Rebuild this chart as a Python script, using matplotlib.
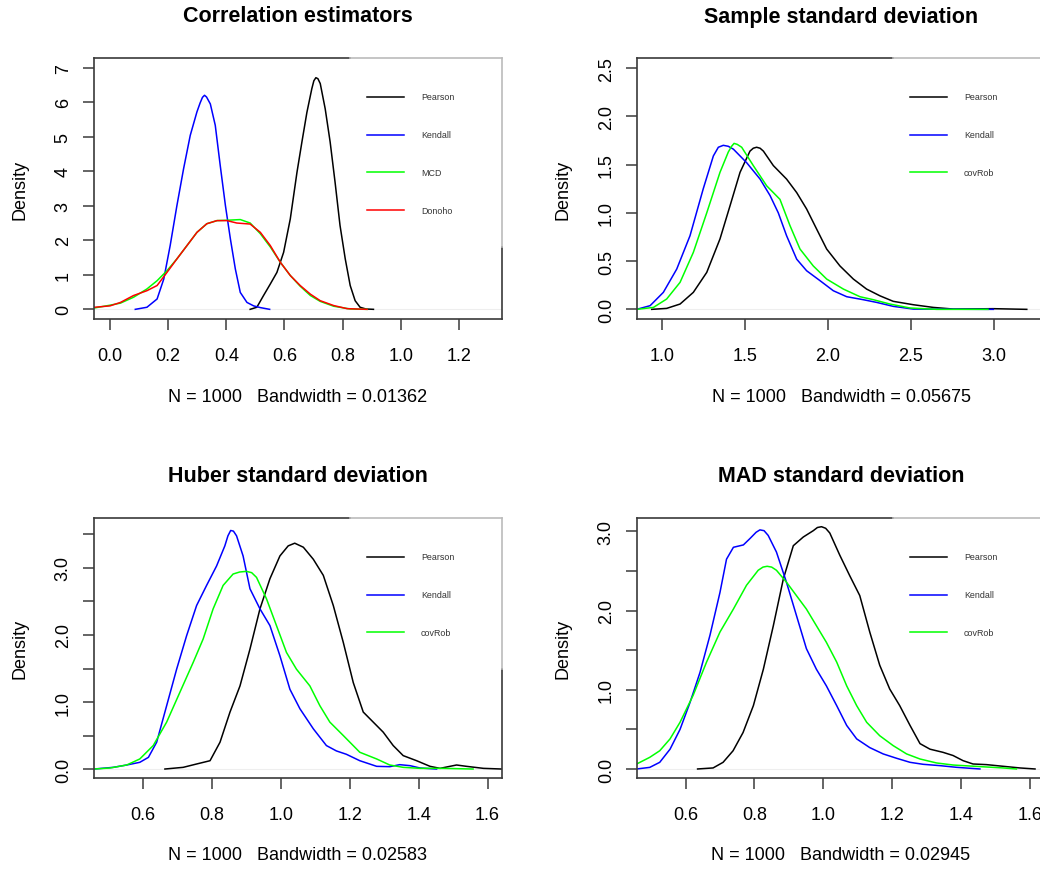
import matplotlib
matplotlib.use('Agg')
import matplotlib.pyplot as plt

plt.rcParams['font.family'] = ['Liberation Sans', 'DejaVu Sans']

# ---- panel 1: correlation estimators ----
corr_pearson_x = [0.482, 0.505, 0.528, 0.551, 0.574, 0.597, 0.620, 0.643, 0.660, 0.677, 0.694, 0.701,
                  0.708, 0.715, 0.723, 0.740, 0.757, 0.774, 0.791, 0.809, 0.826, 0.843, 0.860, 0.880,
                  0.906]
corr_pearson_y = [0.0, 0.06, 0.40, 0.73, 1.07, 1.65, 2.62, 3.97, 4.85, 5.70, 6.39, 6.62,
                  6.71, 6.68, 6.54, 5.81, 4.85, 3.68, 2.43, 1.46, 0.69, 0.25, 0.06, 0.01,
                  0.0]
corr_kendall_x = [0.087, 0.127, 0.162, 0.185, 0.207, 0.230, 0.253, 0.276, 0.299, 0.310, 0.318, 0.325,
                  0.332, 0.345, 0.362, 0.379, 0.397, 0.414, 0.431, 0.448, 0.471, 0.494, 0.517, 0.549]
corr_kendall_y = [0.0, 0.06, 0.30, 0.88, 1.85, 3.00, 4.07, 5.04, 5.72, 5.98, 6.14, 6.20,
                  6.15, 5.95, 5.33, 4.17, 3.00, 2.04, 1.17, 0.49, 0.20, 0.10, 0.05, 0.0]
corr_mcd_x = [-0.053, 0.0, 0.036, 0.081, 0.127, 0.162, 0.196, 0.230, 0.265, 0.299, 0.333, 0.368,
              0.402, 0.448, 0.482, 0.517, 0.551, 0.586, 0.620, 0.654, 0.689, 0.723, 0.769, 0.826, 0.884]
corr_mcd_y = [0.04, 0.12, 0.18, 0.35, 0.59, 0.83, 1.12, 1.46, 1.85, 2.23, 2.48, 2.57,
              2.58, 2.60, 2.50, 2.19, 1.81, 1.36, 0.98, 0.67, 0.40, 0.23, 0.09, 0.01, 0.0]
corr_donoho_x = [-0.053, 0.0, 0.036, 0.081, 0.127, 0.162, 0.196, 0.230, 0.265, 0.299, 0.333, 0.368,
                 0.402, 0.436, 0.482, 0.517, 0.551, 0.586, 0.620, 0.654, 0.689, 0.723, 0.769, 0.815, 0.884]
corr_donoho_y = [0.06, 0.10, 0.20, 0.40, 0.54, 0.69, 1.07, 1.46, 1.85, 2.23, 2.48, 2.57,
                 2.57, 2.50, 2.47, 2.23, 1.85, 1.36, 0.98, 0.69, 0.44, 0.25, 0.11, 0.02, 0.0]

# ---- panel 2: sample standard deviation ----
sd_pearson_x = [0.936, 1.026, 1.107, 1.187, 1.268, 1.348, 1.408, 1.469, 1.529, 1.549, 1.569, 1.590,
                1.610, 1.670, 1.750, 1.811, 1.871, 1.932, 1.992, 2.072, 2.153, 2.233, 2.314, 2.394,
                2.515, 2.636, 2.757, 2.998, 3.200]
sd_pearson_y = [0.0, 0.01, 0.055, 0.176, 0.383, 0.73, 1.07, 1.42, 1.64, 1.67, 1.68, 1.67,
                1.64, 1.49, 1.35, 1.21, 1.04, 0.83, 0.625, 0.45, 0.314, 0.21, 0.14, 0.083,
                0.048, 0.02, 0.003, 0.007, 0.0]
sd_kendall_x = [0.845, 0.926, 1.006, 1.087, 1.167, 1.247, 1.308, 1.338, 1.368, 1.398, 1.429, 1.509,
                1.590, 1.650, 1.700, 1.750, 1.811, 1.871, 1.952, 2.032, 2.113, 2.213, 2.294, 2.394,
                2.515, 2.998]
sd_kendall_y = [0.0, 0.038, 0.176, 0.418, 0.763, 1.25, 1.59, 1.68, 1.70, 1.69, 1.66, 1.52,
                1.35, 1.18, 1.00, 0.763, 0.52, 0.40, 0.297, 0.193, 0.131, 0.10, 0.072, 0.031,
                0.003, 0.0]
sd_covrob_x = [0.845, 0.946, 1.026, 1.107, 1.187, 1.268, 1.348, 1.398, 1.418, 1.433, 1.452, 1.479,
               1.549, 1.630, 1.710, 1.770, 1.831, 1.911, 1.992, 2.093, 2.193, 2.274, 2.374, 2.495,
               2.656, 2.966]
sd_covrob_y = [0.0, 0.02, 0.107, 0.28, 0.59, 1.00, 1.42, 1.63, 1.69, 1.72, 1.71, 1.68,
               1.49, 1.28, 1.14, 0.87, 0.625, 0.45, 0.314, 0.21, 0.131, 0.10, 0.055, 0.014,
               0.0, 0.0]

# ---- panel 3: Huber standard deviation ----
hub_pearson_x = [0.663, 0.716, 0.755, 0.794, 0.823, 0.852, 0.881, 0.910, 0.939, 0.968, 0.997, 1.021,
                 1.040, 1.065, 1.094, 1.123, 1.152, 1.181, 1.210, 1.239, 1.268, 1.297, 1.326, 1.355,
                 1.394, 1.433, 1.462, 1.510, 1.539, 1.588, 1.641]
hub_pearson_y = [0.0, 0.025, 0.075, 0.124, 0.40, 0.85, 1.24, 1.79, 2.39, 2.84, 3.18, 3.33,
                 3.37, 3.31, 3.13, 2.89, 2.44, 1.89, 1.29, 0.85, 0.70, 0.55, 0.35, 0.20,
                 0.124, 0.04, 0.01, 0.06, 0.04, 0.01, 0.0]
hub_kendall_x = [0.457, 0.513, 0.552, 0.590, 0.615, 0.639, 0.668, 0.697, 0.726, 0.755, 0.784, 0.813,
                 0.837, 0.846, 0.854, 0.862, 0.871, 0.890, 0.910, 0.939, 0.968, 0.997, 1.026, 1.055,
                 1.094, 1.132, 1.161, 1.190, 1.229, 1.278, 1.316, 1.345, 1.375, 1.404, 1.452]
hub_kendall_y = [0.0, 0.025, 0.06, 0.10, 0.174, 0.40, 0.945, 1.49, 1.99, 2.44, 2.74, 3.03,
                 3.33, 3.48, 3.56, 3.55, 3.48, 3.18, 2.69, 2.39, 2.14, 1.69, 1.19, 0.90,
                 0.60, 0.35, 0.27, 0.22, 0.124, 0.04, 0.035, 0.065, 0.05, 0.015, 0.0]
hub_covrob_x = [0.457, 0.503, 0.552, 0.590, 0.629, 0.668, 0.706, 0.745, 0.774, 0.803, 0.832, 0.861,
                0.880, 0.900, 0.915, 0.929, 0.958, 0.987, 1.016, 1.045, 1.084, 1.113, 1.142, 1.181,
                1.229, 1.278, 1.316, 1.355, 1.404, 1.471, 1.558]
hub_covrob_y = [0.0, 0.015, 0.06, 0.15, 0.35, 0.70, 1.14, 1.59, 1.94, 2.39, 2.74, 2.91,
                2.94, 2.95, 2.93, 2.86, 2.54, 2.14, 1.74, 1.49, 1.24, 0.945, 0.70, 0.50,
                0.25, 0.15, 0.06, 0.025, 0.01, 0.01, 0.0]

# ---- panel 4: MAD standard deviation ----
mad_pearson_x = [0.635, 0.680, 0.709, 0.738, 0.767, 0.797, 0.826, 0.855, 0.884, 0.913, 0.942, 0.971,
                 0.983, 0.995, 1.007, 1.019, 1.048, 1.077, 1.106, 1.135, 1.164, 1.193, 1.222, 1.252,
                 1.281, 1.310, 1.348, 1.377, 1.406, 1.435, 1.474, 1.522, 1.571, 1.615]
mad_pearson_y = [0.0, 0.013, 0.084, 0.23, 0.46, 0.80, 1.26, 1.81, 2.40, 2.82, 2.93, 3.01,
                 3.05, 3.06, 3.04, 2.98, 2.70, 2.44, 2.19, 1.73, 1.31, 1.01, 0.80, 0.55,
                 0.32, 0.25, 0.21, 0.17, 0.105, 0.063, 0.055, 0.034, 0.013, 0.0]
mad_kendall_x = [0.458, 0.496, 0.525, 0.555, 0.584, 0.613, 0.642, 0.671, 0.700, 0.719, 0.739, 0.768,
                 0.787, 0.805, 0.816, 0.828, 0.840, 0.864, 0.893, 0.922, 0.951, 0.980, 1.009, 1.039,
                 1.068, 1.097, 1.135, 1.174, 1.213, 1.252, 1.290, 1.339, 1.387, 1.455]
mad_kendall_y = [0.0, 0.02, 0.084, 0.25, 0.50, 0.84, 1.22, 1.69, 2.23, 2.65, 2.80, 2.83,
                 2.91, 2.99, 3.02, 3.01, 2.95, 2.74, 2.36, 1.94, 1.52, 1.26, 1.05, 0.80,
                 0.55, 0.38, 0.27, 0.19, 0.135, 0.084, 0.059, 0.042, 0.021, 0.0]
mad_covrob_x = [0.458, 0.496, 0.525, 0.555, 0.584, 0.622, 0.661, 0.700, 0.739, 0.777, 0.811, 0.825,
                0.837, 0.850, 0.864, 0.893, 0.922, 0.951, 0.980, 1.009, 1.039, 1.068, 1.097, 1.126,
                1.164, 1.203, 1.242, 1.281, 1.329, 1.377, 1.455, 1.522, 1.561]
mad_covrob_y = [0.063, 0.147, 0.23, 0.38, 0.59, 0.93, 1.35, 1.73, 2.02, 2.32, 2.51, 2.55,
                2.56, 2.55, 2.51, 2.36, 2.19, 2.02, 1.81, 1.60, 1.35, 1.05, 0.80, 0.59,
                0.42, 0.295, 0.19, 0.126, 0.076, 0.05, 0.03, 0.013, 0.0]

titles = ['Correlation estimators', 'Sample standard deviation',
          'Huber standard deviation', 'MAD standard deviation']
bandwidths = ['N = 1000   Bandwidth = 0.01362', 'N = 1000   Bandwidth = 0.05675',
              'N = 1000   Bandwidth = 0.02583', 'N = 1000   Bandwidth = 0.02945']

panels = [
    dict(curves=[(corr_pearson_x, corr_pearson_y), (corr_kendall_x, corr_kendall_y),
                 (corr_mcd_x, corr_mcd_y), (corr_donoho_x, corr_donoho_y)],
         labels=['Pearson', 'Kendall', 'MCD', 'Donoho'],
         colors=['black', 'blue', '#00ff00', 'red'],
         xlim=(-0.055, 1.348), ylim=(-0.28, 7.28),
         xticks=[0.0, 0.2, 0.4, 0.6, 0.8, 1.0, 1.2],
         xlabels=['0.0', '0.2', '0.4', '0.6', '0.8', '1.0', '1.2'],
         yticks=[0, 1, 2, 3, 4, 5, 6, 7],
         ylabels=['0', '1', '2', '3', '4', '5', '6', '7'],
         rdark=0.276),
    dict(curves=[(sd_pearson_x, sd_pearson_y), (sd_kendall_x, sd_kendall_y),
                 (sd_covrob_x, sd_covrob_y)],
         labels=['Pearson', 'Kendall', 'covRob'],
         colors=['black', 'blue', '#00ff00'],
         xlim=(0.847, 3.31), ylim=(-0.1, 2.605),
         xticks=[1.0, 1.5, 2.0, 2.5, 3.0],
         xlabels=['1.0', '1.5', '2.0', '2.5', '3.0'],
         yticks=[0.0, 0.5, 1.0, 1.5, 2.0, 2.5],
         ylabels=['0.0', '0.5', '1.0', '1.5', '2.0', '2.5'],
         rdark=0.276),
    dict(curves=[(hub_pearson_x, hub_pearson_y), (hub_kendall_x, hub_kendall_y),
                 (hub_covrob_x, hub_covrob_y)],
         labels=['Pearson', 'Kendall', 'covRob'],
         colors=['black', 'blue', '#00ff00'],
         xlim=(0.457, 1.642), ylim=(-0.134, 3.746),
         xticks=[0.6, 0.8, 1.0, 1.2, 1.4, 1.6],
         xlabels=['0.6', '0.8', '1.0', '1.2', '1.4', '1.6'],
         yticks=[0.0, 0.5, 1.0, 1.5, 2.0, 2.5, 3.0, 3.5],
         ylabels=['0.0', '', '1.0', '', '2.0', '', '3.0', ''],
         rdark=0.42),
    dict(curves=[(mad_pearson_x, mad_pearson_y), (mad_kendall_x, mad_kendall_y),
                 (mad_covrob_x, mad_covrob_y)],
         labels=['Pearson', 'Kendall', 'covRob'],
         colors=['black', 'blue', '#00ff00'],
         xlim=(0.459, 1.644), ylim=(-0.114, 3.17),
         xticks=[0.6, 0.8, 1.0, 1.2, 1.4, 1.6],
         xlabels=['0.6', '0.8', '1.0', '1.2', '1.4', '1.6'],
         yticks=[0.0, 0.5, 1.0, 1.5, 2.0, 2.5, 3.0],
         ylabels=['0.0', '', '1.0', '', '2.0', '', '3.0'],
         rdark=0.42),
]

W, H = 1040, 870
fig = plt.figure(figsize=(10.4, 8.7), dpi=100)
# axes boxes in pixels: left, top, width, height
boxes = [(94, 59, 408, 261), (637, 59, 408, 261), (94, 519, 408, 260), (637, 519, 408, 260)]
edge = '#3a3a3a'

for p, box, title, bw in zip(panels, boxes, titles, bandwidths):
    l, t, w, h = box
    ax = fig.add_axes([l / W, (H - t - h) / H, w / W, h / H])
    ax.set_xlim(*p['xlim'])
    ax.set_ylim(*p['ylim'])
    ax.axhline(0, color='#eeeeee', lw=0.8, zorder=0)
    for (xs, ys), c in zip(p['curves'], p['colors']):
        ax.plot(xs, ys, color=c, lw=1.1, solid_joinstyle='round')

    # legend without frame
    for i, (lab, c) in enumerate(zip(p['labels'], p['colors'])):
        yy = 1 - (38.7 + 37.8 * i) / h
        ax.plot([0.669, 0.760], [yy, yy], color=c, lw=1.1, transform=ax.transAxes)
        ax.text(0.801, yy, lab, fontsize=6.4, color='#333333', va='center', ha='left',
                transform=ax.transAxes)

    # box like the screenshot (partly faded top/right edges)
    for s in ['top', 'right']:
        ax.spines[s].set_visible(False)
    for s in ['left', 'bottom']:
        ax.spines[s].set_color(edge)
        ax.spines[s].set_linewidth(1.2)
    ax.plot([0, 0.627], [1, 1], color=edge, lw=1.2, transform=ax.transAxes, clip_on=False)
    ax.plot([0.627, 1], [1, 1], color='#bbbbbb', lw=1.2, transform=ax.transAxes, clip_on=False)
    ax.plot([1, 1], [0, p['rdark']], color=edge, lw=1.2, transform=ax.transAxes, clip_on=False)
    ax.plot([1, 1], [p['rdark'], 1], color='#bbbbbb', lw=1.2, transform=ax.transAxes, clip_on=False)

    ax.set_xticks(p['xticks'])
    ax.set_xticklabels(p['xlabels'])
    ax.set_yticks(p['yticks'])
    ax.set_yticklabels(p['ylabels'], rotation=90, va='center')
    ax.tick_params(direction='out', length=8, width=1.1, color=edge, labelsize=13)
    ax.tick_params(axis='x', pad=12)
    ax.tick_params(axis='y', pad=8)

    ax.text(0.5, 1 + 42 / h, title, fontsize=15.5, fontweight='bold', ha='center', va='center',
            transform=ax.transAxes)
    ax.text(0.5, -77 / h, bw, fontsize=13, ha='center', va='center', transform=ax.transAxes)
    ax.text(-74 / w, 0.5, 'Density', fontsize=13, rotation=90, ha='center', va='center',
            transform=ax.transAxes)

fig.savefig('out.png', dpi=100)
